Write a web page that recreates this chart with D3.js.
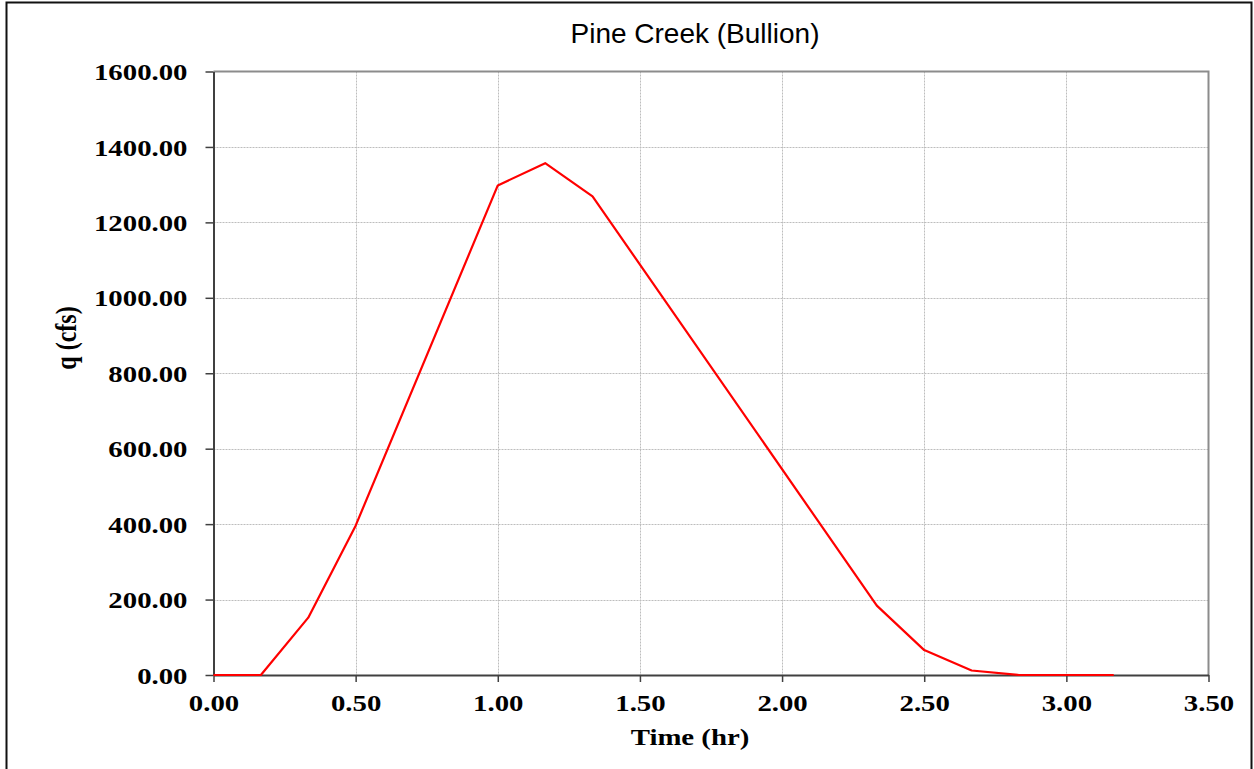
<!DOCTYPE html>
<html>
<head>
<meta charset="utf-8">
<script src="https://cdn.jsdelivr.net/npm/d3@7"></script>
<style>
  body { margin: 0; background: #fff; }
  svg { display: block; }
</style>
</head>
<body>
<svg></svg>
<script>
// hydrograph values
const time_hr = [0, 0.1667, 0.3333, 0.5, 1.0, 1.1667, 1.3333, 2.3333, 2.5, 2.6667, 2.8333, 3.0, 3.1667];
const flow_cfs = [0, 0, 152, 396, 1298, 1357, 1269, 184, 66, 12, 0, 0, 0];
const x_ticks = [0, 0.5, 1, 1.5, 2, 2.5, 3, 3.5];
const y_ticks = [0, 200, 400, 600, 800, 1000, 1200, 1400, 1600];

const title = "Pine Creek (Bullion)";
const x_label = "Time (hr)";
const y_label = "q (cfs)";

const width = 1254, height = 769;
const margin = { left: 213.5, right: 45.5, top: 71.5, bottom: 94 };

const svg = d3.select("svg").attr("width", width).attr("height", height);

const x_scale = d3.scaleLinear().domain([0, 3.5]).range([margin.left, width - margin.right]);
const y_scale = d3.scaleLinear().domain([0, 1600]).range([height - margin.bottom, margin.top]);

const stretch = 1.2;
const fmt = d3.format(".2f");

// outer frame
svg.append("rect")
  .attr("x", 6.5).attr("y", 2.5)
  .attr("width", 1245).attr("height", 820)
  .attr("fill", "none").attr("stroke", "#111").attr("stroke-width", 2);

// grid
const grid = svg.append("g").attr("stroke", "#bdbdbd").attr("stroke-width", 1).attr("stroke-dasharray", "2,1");
grid.selectAll(".vx").data(x_ticks.slice(1, -1)).join("line")
  .attr("x1", d => Math.round(x_scale(d)) + 0.5).attr("x2", d => Math.round(x_scale(d)) + 0.5)
  .attr("y1", y_scale(1600)).attr("y2", y_scale(0));
grid.selectAll(".hy").data(y_ticks.slice(1, -1)).join("line")
  .attr("y1", d => Math.round(y_scale(d)) + 0.5).attr("y2", d => Math.round(y_scale(d)) + 0.5)
  .attr("x1", x_scale(0)).attr("x2", x_scale(3.5));

// top / right border of the plot
svg.append("path")
  .attr("d", `M${x_scale(0)},${y_scale(1600)}H${x_scale(3.5)}V${y_scale(0)}`)
  .attr("fill", "none").attr("stroke", "#8c8c8c").attr("stroke-width", 2);

// axes
const x_axis = d3.axisBottom(x_scale).tickValues(x_ticks).tickFormat(fmt).tickSize(7).tickSizeOuter(0);
const y_axis = d3.axisLeft(y_scale).tickValues(y_ticks).tickFormat(fmt).tickSize(8).tickSizeOuter(0);

const gx = svg.append("g")
  .attr("transform", `translate(0,${y_scale(0)})`)
  .call(x_axis);
const gy = svg.append("g")
  .attr("transform", `translate(${x_scale(0)},0)`)
  .call(y_axis);

[gx, gy].forEach(g => {
  g.select(".domain").attr("stroke", "#404040").attr("stroke-width", 2);
  g.selectAll(".tick line").attr("stroke", "#404040").attr("stroke-width", 1.5);
  g.selectAll(".tick text")
    .attr("fill", "#000")
    .style("font-family", "'Liberation Serif', 'Times New Roman', serif")
    .style("font-weight", "bold")
    .style("font-size", "24px");
});

gx.selectAll(".tick text")
  .attr("y", 36).attr("dy", 0)
  .attr("transform", `scale(${stretch},1)`);
gy.selectAll(".tick text")
  .attr("x", -26 / stretch).attr("dy", "0.34em")
  .attr("transform", `scale(${stretch},1)`);

// the line
const line_generator = d3.line()
  .x((d, i) => x_scale(time_hr[i]))
  .y(d => y_scale(d));

svg.append("path")
  .attr("fill", "none")
  .attr("stroke", "#ff0000")
  .attr("stroke-width", 2.2)
  .attr("stroke-linejoin", "round")
  .attr("d", line_generator(flow_cfs));

// title
svg.append("text")
  .attr("x", 695).attr("y", 43)
  .attr("text-anchor", "middle")
  .style("font-family", "'Liberation Sans', Arial, sans-serif")
  .style("font-size", "28px")
  .text(title);

// x label
svg.append("text")
  .attr("transform", `translate(690,745) scale(${stretch},1)`)
  .attr("text-anchor", "middle")
  .style("font-family", "'Liberation Serif', 'Times New Roman', serif")
  .style("font-weight", "bold")
  .style("font-size", "24px")
  .text(x_label);

// y label
svg.append("text")
  .attr("transform", `translate(76,338) rotate(-90) scale(1,${stretch})`)
  .attr("text-anchor", "middle")
  .style("font-family", "'Liberation Serif', 'Times New Roman', serif")
  .style("font-weight", "bold")
  .style("font-size", "24px")
  .text(y_label);
</script>
</body>
</html>
